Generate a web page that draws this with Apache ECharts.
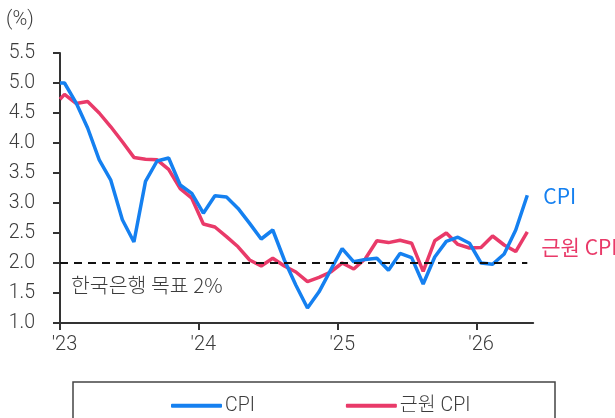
<!DOCTYPE html>
<html><head><meta charset="utf-8">
<script src="https://cdn.jsdelivr.net/npm/echarts@6/dist/echarts.min.js"></script>
<style>html,body{margin:0;padding:0;background:#fff}#c{width:615px;height:418px}</style>
</head><body><div id="c"></div>
<script>
// x positions are months since Jan 2023
const yearTickMonths = [0, 12, 24, 36];
const yearTickLabels = ["'23", "'24", "'25", "'26"];
const seriesNames = ['CPI', '근원 CPI'];
// monthly values, Jan 2023 .. May 2026
const cpi = [5.0,4.67,4.25,3.72,3.38,2.72,2.35,3.36,3.7,3.75,3.3,3.16,
             2.83,3.12,3.1,2.91,2.66,2.4,2.55,2.05,1.63,1.25,1.52,1.88,
             2.24,2.02,2.06,2.08,1.88,2.16,2.09,1.65,2.1,2.36,2.43,2.33,
             2.0,1.98,2.15,2.55,3.13];
const core = [4.81,4.66,4.69,4.5,4.27,4.02,3.76,3.73,3.72,3.56,3.24,3.08,
              2.65,2.6,2.44,2.27,2.05,1.95,2.08,1.95,1.85,1.69,1.76,1.85,
              2.0,1.9,2.07,2.37,2.34,2.38,2.33,1.86,2.37,2.5,2.31,2.25,
              2.26,2.45,2.3,2.19,2.52];
const cpiAtAxisStart = 5.0, coreAtAxisStart = 4.73;
const targetRate = 2.0;
const targetLabel = '한국은행 목표 2%';

const monthOffset = 0.39;
const toPts = (arr, start) => [[0, start]].concat(arr.map((v, i) => [i + monthOffset, v]));
const labelPositions = yearTickMonths.map(m => m + monthOffset);
const lastX = cpi.length - 1 + monthOffset;

const BLUE = '#1580F0', PINK = '#E93A69', TXT = '#3c3c3c';
const NUMFONT = 'Roboto, "Noto Sans CJK KR"';
const chart = echarts.init(document.getElementById('c'));
chart.setOption({
  animation: false,
  grid: { left: 60, top: 53, right: 81.8, bottom: 95 },
  xAxis: {
    type: 'value', min: 0, max: 40.9,
    axisLine: { lineStyle: { color: '#333', width: 2 } },
    axisTick: { length: 7, lineStyle: { color: '#333', width: 2 }, customValues: yearTickMonths },
    axisLabel: {
      customValues: labelPositions, margin: 12, color: TXT, fontSize: 20, fontWeight: 300, fontFamily: NUMFONT,
      formatter: v => yearTickLabels[labelPositions.findIndex(p => Math.abs(p - v) < 1e-6)]
    },
    splitLine: { show: false }
  },
  yAxis: {
    type: 'value', min: 1, max: 5.5, interval: 0.5,
    axisLine: { show: true, lineStyle: { color: '#333', width: 2 } },
    axisTick: { show: true, length: 7, lineStyle: { color: '#333', width: 2 } },
    axisLabel: { margin: 25, color: TXT, fontSize: 19.5, fontWeight: 300, fontFamily: NUMFONT, formatter: v => v.toFixed(1) },
    splitLine: { show: false }
  },
  legend: {
    left: 166, top: 391,
    icon: 'roundRect', itemWidth: 51, itemHeight: 4, itemGap: 91,
    textStyle: { color: TXT, fontSize: 19.5, fontWeight: 300, fontFamily: NUMFONT, padding: [0, 0, 0, -2] },
    data: seriesNames
  },
  graphic: [
    { type: 'rect', shape: { x: 73, y: 382, width: 482, height: 60 }, style: { fill: 'none', stroke: '#444', lineWidth: 1.5 } },
    { type: 'text', left: 6, top: 10, style: { text: '(%)', fill: TXT, fontSize: 20, fontWeight: 300, fontFamily: NUMFONT } },
    { type: 'text', left: 71, top: 275, style: { text: targetLabel, fill: TXT, fontSize: 20.5, fontWeight: 300, fontFamily: '"Noto Sans CJK KR"' } }
  ],
  series: [
    {
      name: seriesNames[0], type: 'line', data: toPts(cpi, cpiAtAxisStart),
      symbol: 'none', color: BLUE, lineStyle: { width: 3.5, color: BLUE }, z: 3,
      endLabel: { show: true, formatter: '{a}', color: BLUE, fontSize: 21, fontFamily: '"Noto Sans CJK KR"', offset: [8, 1] },
      markLine: {
        silent: true, symbol: 'none', label: { show: false },
        lineStyle: { color: '#111', type: [8, 6], width: 2 },
        data: [[{ coord: [0, targetRate] }, { coord: [lastX, targetRate] }]]
      }
    },
    {
      name: seriesNames[1], type: 'line', data: toPts(core, coreAtAxisStart),
      symbol: 'none', color: PINK, lineStyle: { width: 3.5, color: PINK }, z: 2,
      endLabel: { show: true, formatter: '{a}', color: PINK, fontSize: 21, fontFamily: '"Noto Sans CJK KR"', offset: [6, 15] }
    }
  ]
});
</script></body></html>
